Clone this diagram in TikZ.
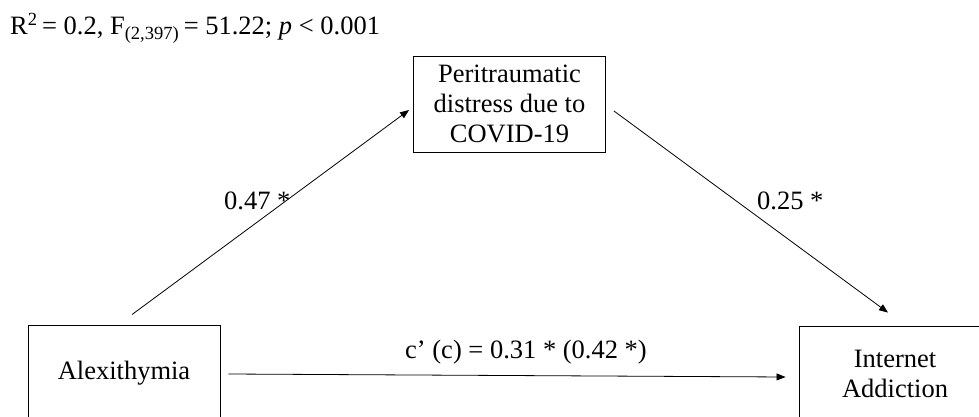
\documentclass[tikz,border=0pt]{standalone}
\usepackage{fontspec}
\setmainfont{Liberation Serif}
\usetikzlibrary{arrows.meta,calc}
\begin{document}
\begin{tikzpicture}[x=1pt,y=-1pt,
  box/.style={draw,line width=0.9pt,minimum width=192pt,minimum height=96pt,align=center,inner sep=0pt,font=\fontsize{26.5}{30}\selectfont},
  lbl/.style={font=\fontsize{26.5}{30}\selectfont,inner sep=0pt},
  conn/.style={line width=0.8pt,-{Triangle[length=9pt,width=7pt]}}]
\clip (0,0) rectangle (979,417);
\useasboundingbox (0,0) rectangle (979,417);
\node[box] (med) at (509.5,104) {Peritraumatic\\distress due to\\COVID-19};
\node[box] (alex) at (124,373) {Alexithymia};
\node[box] (ia) at (895,374) {Internet\\Addiction};
\node[lbl,anchor=base west] (top) at (10,35) {R\textsuperscript{2}\,= 0.2, F\textsubscript{(2,397)}\,= 51.22; \textit{p} < 0.001};
\coordinate (a1) at ($(alex.north)+(8,-10)$);
\coordinate (a2) at ($(med.west)+(-4,6)$);
\coordinate (b1) at ($(med.east)+(8,7)$);
\coordinate (b2) at ($(ia.north)+(-7,-13)$);
\coordinate (c1) at ($(alex.east)+(8,1)$);
\coordinate (c2) at ($(ia.west)+(-13,3)$);
\draw[conn] (a1) -- (a2);
\draw[conn] (b1) -- (b2);
\draw[conn] (c1) -- (c2);
\node[lbl,anchor=base west] (l1) at (224,209) {0.47 *};
\node[lbl,anchor=base west] (l2) at (757,209) {0.25 *};
\node[lbl,anchor=base] (l3) at (526,358) {c’ (c) = 0.31 * (0.42 *)};
\end{tikzpicture}
\end{document}
